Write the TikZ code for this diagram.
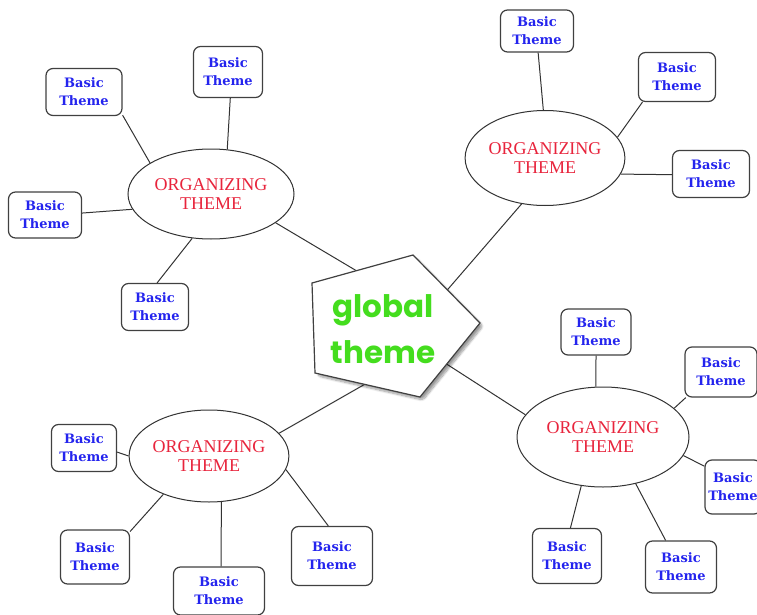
\documentclass[tikz,border=0pt]{standalone}
\usepackage{fontspec}
\setmainfont{DejaVu Serif}
\newfontfamily\basicfont{DejaVu Serif}
\newfontfamily\orgfont{Liberation Serif}
\newfontfamily\globalfont{Poppins}
\usetikzlibrary{shapes.geometric,backgrounds,shadows.blur}
\definecolor{themeblue}{HTML}{2424EE}
\definecolor{orgred}{HTML}{E8243C}
\definecolor{globalgreen}{HTML}{44DD1E}
\begin{document}
\begin{tikzpicture}[x=1pt,y=-1pt,
  basic/.style={draw=black!75, line width=1.2pt, rounded corners=7pt, fill=white,
    minimum width=70pt, minimum height=47pt, align=center, inner sep=1pt,
    font=\basicfont\bfseries\fontsize{13}{18}\selectfont, text=themeblue},
  org/.style={ellipse, draw=black!80, line width=1pt, fill=white, align=center,
    inner sep=0pt, font=\orgfont\fontsize{18}{19}\selectfont, text=orgred},
  link/.style={draw=black!80, line width=1pt}]
\useasboundingbox (0,0) rectangle (757,615);

% central pentagon
\coordinate (p1) at (312,283);
\coordinate (p2) at (413,255);
\coordinate (p3) at (480,323);
\coordinate (p4) at (420,397);
\coordinate (p5) at (315,373);
\draw[draw=black!75, line width=1.2pt, fill=white,
  blur shadow={shadow xshift=3pt, shadow yshift=-3pt, shadow blur steps=10, shadow blur extra rounding=3pt, shadow opacity=40}]
  (p1) -- (p2) -- (p3) -- (p4) -- (p5) -- cycle;
\node[align=center, font=\globalfont\bfseries\fontsize{31}{46}\selectfont, text=globalgreen]
  (global) at (383,329) {global\\theme};
\coordinate (gTL) at (372,280);
\coordinate (gTR) at (430,310);
\coordinate (gBL) at (381,375);
\coordinate (gBR) at (431,354);

% organizing themes
\node[org, minimum width=166pt, minimum height=90pt] (e1) at (211,194) {ORGANIZING\\THEME};
\node[org, minimum width=154pt, minimum height=95pt] (e2) at (545,158) {ORGANIZING\\THEME};
\node[org, minimum width=158pt, minimum height=92pt] (e3) at (209,456) {ORGANIZING\\THEME};
\node[org, minimum width=172pt, minimum height=100pt] (e4) at (603,437) {ORGANIZING\\THEME};

% basic themes
\node[basic, minimum width=76pt] (b1) at (84,92) {Basic\\Theme};
\node[basic, minimum width=69pt, minimum height=51pt] (b2) at (228,72) {Basic\\Theme};
\node[basic, minimum width=73pt, minimum height=46pt] (b3) at (45,215) {Basic\\Theme};
\node[basic, minimum width=67pt] (b4) at (155,307) {Basic\\Theme};
\node[basic, minimum width=73pt, minimum height=42pt] (b5) at (537,31) {Basic\\Theme};
\node[basic, minimum width=77pt, minimum height=49pt] (b6) at (677,77) {Basic\\Theme};
\node[basic, minimum width=77pt] (b7) at (711,174) {Basic\\Theme};
\node[basic, minimum width=65pt] (b8) at (84,448) {Basic\\Theme};
\node[basic, minimum width=69pt, minimum height=54pt] (b9) at (95,557) {Basic\\Theme};
\node[basic, minimum width=91pt, minimum height=48pt] (b10) at (219,591) {Basic\\Theme};
\node[basic, minimum width=81pt, minimum height=59pt] (b11) at (332,556) {Basic\\Theme};
\node[basic, minimum width=70pt, minimum height=46pt] (b12) at (596,332) {Basic\\Theme};
\node[basic, minimum width=72pt, minimum height=50pt] (b13) at (721,372) {Basic\\Theme};
\node[basic, minimum width=56pt, minimum height=54pt] (b14) at (733,487) {Basic\\Theme};
\node[basic, minimum width=69pt, minimum height=55pt] (b15) at (567,556) {Basic\\Theme};
\node[basic, minimum width=71pt, minimum height=52pt] (b16) at (681,567) {Basic\\Theme};

% connectors
\begin{pgfonlayer}{background}
\draw[link] (e1.-24) -- (gTL);
\draw[link] (e2.-117) -- (gTR);
\draw[link] (e3.18) -- (gBL);
\draw[link] (e4.164.3) -- (gBR);
\end{pgfonlayer}
\draw[link] (e1.153.4) -- (b1.-31.7);
\draw[link] (e1.70.4) -- (b2.-85.6);
\draw[link] (e1.191.4) -- (b3.3);
\draw[link] (e1.-113.4) -- (b4.85);
\draw[link] (e2.92.4) -- (b5.-87);
\draw[link] (e2.16.6) -- (b6.-144.8);
\draw[link] (e2.-12.8) -- (b7.181.5);
\draw[link] (e3.180) -- (b8.-7);
\draw[link] (e3.-140.3) -- (b9.36.9);
\draw[link] (e3.-75.7) -- (b10.85);
\draw[link] (e3.-10.4) -- (b11.97.9);
\draw[link] (e4.98) -- (b12.-90);
\draw[link] (e4.22.9) -- (b13.-144.5);
\draw[link] (e4.-13.2) -- (b14.144.5);
\draw[link] (e4.-114) -- (b15.83.7);
\draw[link] (e4.-55.8) -- (b16.120);
\end{tikzpicture}
\end{document}
